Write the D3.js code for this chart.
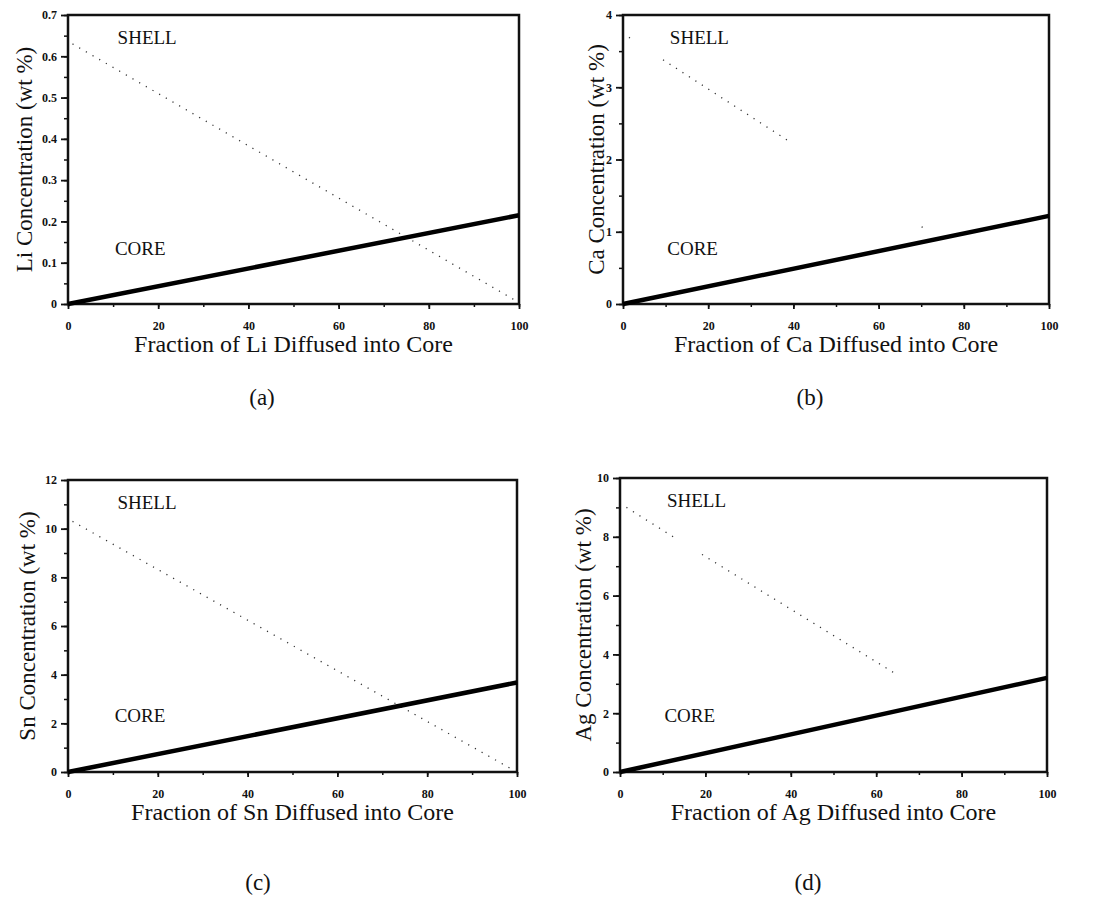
<!DOCTYPE html>
<html>
<head>
<meta charset="utf-8">
<script src="https://cdn.jsdelivr.net/npm/d3@7"></script>
<style>
  body { margin:0; background:#fff; }
  svg text { font-family: "Liberation Serif", "Times New Roman", serif; fill:#111; }
  .tick text { font-weight:bold; font-size:12px; }
  .domain { display:none; }
</style>
</head>
<body>
<svg id="fig" width="1094" height="905"></svg>
<script>
// element of each panel
var elements = ['Li', 'Ca', 'Sn', 'Ag'];
var panelTags = ['(a)', '(b)', '(c)', '(d)'];

// y axis ranges and tick steps
var yMax = [0.7, 4, 12, 10];
var yStep = [0.1, 1, 2, 2];
var yMinor = [0.05, 0.5, 1, 1];
var xTicks = [0, 20, 40, 60, 80, 100];
var xMinorTicks = [0, 10, 20, 30, 40, 50, 60, 70, 80, 90, 100];

// core concentration (solid) : [fraction, wt%]
var coreLi = [[0, 0], [100, 0.215]];
var coreCa = [[0, 0], [100, 1.22]];
var coreSn = [[0, 0], [100, 3.68]];
var coreAg = [[0, 0], [100, 3.2]];

// shell concentration (dotted) - only visible stretches of the scan
var shellLi = [[[1, 0.63], [99, 0.01]]];
var shellCa = [[[1.4, 3.69], [1.9, 3.67]], [[9.4, 3.38], [38.5, 2.27]], [[70.1, 1.07], [70.6, 1.05]]];
var shellSn = [[[1, 10.3], [99, 0.1]]];
var shellAg = [[[1.5, 9.0], [12.9, 7.96]], [[19.2, 7.4], [65, 3.3]]];

var cores = [coreLi, coreCa, coreSn, coreAg];
var shells = [shellLi, shellCa, shellSn, shellAg];

// plot boxes [left, top, right, bottom]
var boxes = [[68, 15, 519, 304], [623, 15, 1049, 304], [68, 480, 517, 772], [620, 478, 1047, 772]];
var yTitleX = [24, 596, 27, 583];
var tagPos = [[262, 405], [810, 405], [258, 890], [808, 890]];

var svg = d3.select('#fig');

elements.forEach(function(el, i){
    var b = boxes[i];
    var g = svg.append('g');
    var x = d3.scaleLinear().domain([0, 100]).range([b[0], b[2]]);
    var y = d3.scaleLinear().domain([0, yMax[i]]).range([b[3], b[1]]);
    var nMaj = Math.round(yMax[i] / yStep[i]);
    var yt = d3.range(nMaj + 1).map(k => +(k * yStep[i]).toFixed(2));
    var ym = d3.range(Math.round(yMax[i] / yMinor[i]) + 1).map(k => k * yMinor[i]);

    // minor ticks
    g.append('g').attr('transform', 'translate(0,' + b[3] + ')')
        .call(d3.axisBottom(x).tickValues(xMinorTicks).tickSize(3).tickFormat(''))
        .selectAll('line').attr('stroke', '#111').attr('stroke-width', 1.5);
    g.append('g').attr('transform', 'translate(' + b[0] + ',0)')
        .call(d3.axisLeft(y).tickValues(ym).tickSize(4).tickFormat(''))
        .selectAll('line').attr('stroke', '#111').attr('stroke-width', 1.5);

    // major ticks
    var xa = g.append('g').attr('transform', 'translate(0,' + b[3] + ')')
        .call(d3.axisBottom(x).tickValues(xTicks).tickSize(5).tickPadding(12).tickFormat(d3.format('d')));
    xa.selectAll('line').attr('stroke', '#111').attr('stroke-width', 1.8);
    var ya = g.append('g').attr('transform', 'translate(' + b[0] + ',0)')
        .call(d3.axisLeft(y).tickValues(yt).tickSize(7).tickPadding(4)
            .tickFormat(d => d === 0 ? '0' : (yStep[i] < 1 ? d3.format('.1f')(d) : d3.format('d')(d))));
    ya.selectAll('line').attr('stroke', '#111').attr('stroke-width', 1.8);

    // frame
    g.append('rect')
        .attr('x', b[0]).attr('y', b[1])
        .attr('width', b[2] - b[0]).attr('height', b[3] - b[1])
        .attr('fill', 'none').attr('stroke', '#111').attr('stroke-width', 2.5);

    var line = d3.line().x(d => x(d[0])).y(d => y(d[1]));

    // shell dotted
    g.selectAll('.shell')
        .data(shells[i])
        .join('path')
        .attr('class', 'shell')
        .attr('d', line)
        .attr('fill', 'none')
        .attr('stroke', '#333')
        .attr('stroke-width', 1.3)
        .attr('stroke-dasharray', '1.2,6.5');

    // core solid
    g.append('path')
        .datum(cores[i])
        .attr('d', line)
        .attr('fill', 'none')
        .attr('stroke', '#000')
        .attr('stroke-width', 4.5);

    // region labels
    g.append('text').attr('x', x(11)).attr('y', y(yMax[i] * 0.9))
        .attr('font-size', 19).text('SHELL');
    g.append('text').attr('x', x(10.4)).attr('y', y(yMax[i] * 0.17))
        .attr('font-size', 19).text('CORE');

    // axis titles
    g.append('text')
        .attr('x', (b[0] + b[2]) / 2).attr('y', b[3] + 48)
        .attr('text-anchor', 'middle').attr('font-size', 24)
        .text('Fraction of ' + el + ' Diffused into Core');
    g.append('text')
        .attr('transform', 'translate(' + yTitleX[i] + ',' + (b[1] + b[3]) / 2 + ') rotate(-90)')
        .attr('text-anchor', 'middle').attr('dy', '0.35em').attr('font-size', 23)
        .text(el + ' Concentration (wt %)');

    // panel tag
    svg.append('text')
        .attr('x', tagPos[i][0]).attr('y', tagPos[i][1])
        .attr('text-anchor', 'middle').attr('font-size', 23)
        .text(panelTags[i]);
});
</script>
</body>
</html>
